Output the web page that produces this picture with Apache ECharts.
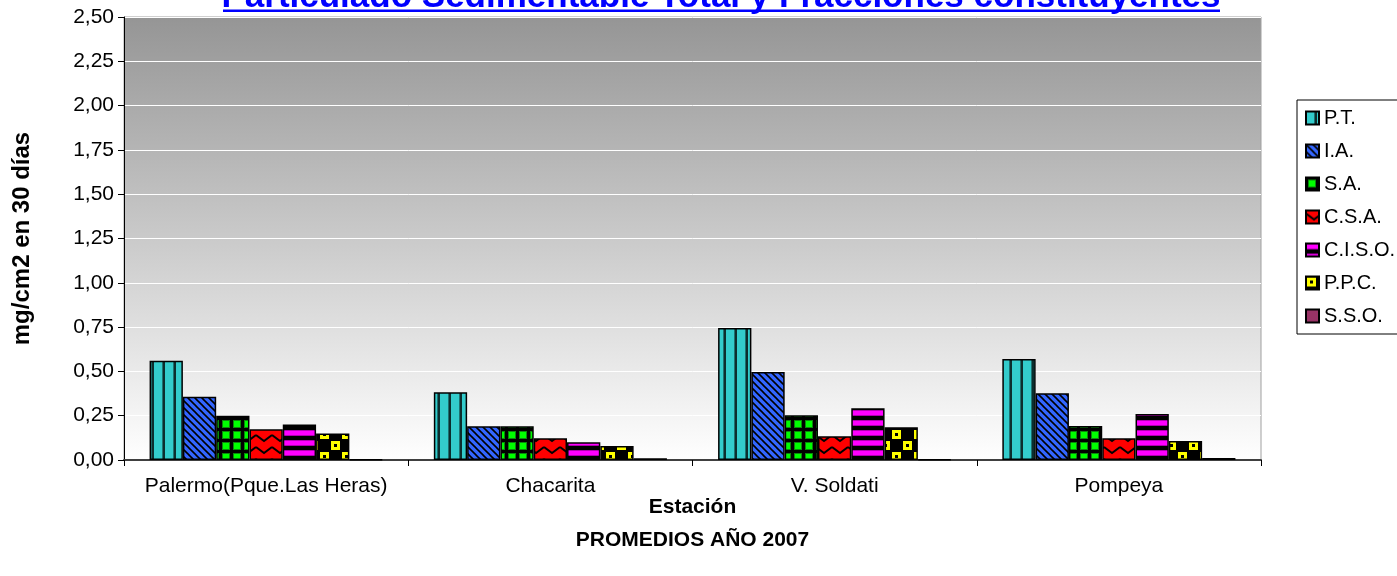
<!DOCTYPE html>
<html>
<head>
<meta charset="utf-8">
<title>Particulado Sedimentable Total y Fracciones constituyentes</title>
<script src="https://cdn.jsdelivr.net/npm/echarts@6/dist/echarts.min.js"></script>
<style>
    html, body { margin: 0; padding: 0; background: #fff; }
    #chart { width: 1397px; height: 576px; }
</style>
</head>
<body>
<div id="chart"></div>
<script>
"use strict";

// datos: promedios 2007 por estacion (mg/cm2 en 30 dias)
var estaciones = ["Palermo(Pque.Las Heras)", "Chacarita", "V. Soldati", "Pompeya"];
var fracciones = ["P.T.", "I.A.", "S.A.", "C.S.A.", "C.I.S.O.", "P.P.C.", "S.S.O."];

var pt   = [0.56, 0.383, 0.745, 0.57];
var ia   = [0.357, 0.19, 0.496, 0.377];
var sa   = [0.25, 0.19, 0.253, 0.192];
var csa  = [0.174, 0.123, 0.134, 0.123];
var ciso = [0.20, 0.10, 0.292, 0.26];
var ppc  = [0.15, 0.079, 0.185, 0.107];
var sso  = [0.004, 0.01, 0.004, 0.011];

var titulo = "Particulado Sedimentable Total y Fracciones constituyentes";
var fuente = '"Liberation Sans", Arial, sans-serif';

// tramas tipo excel
function tile(w, h, draw) {
    var c = document.createElement("canvas");
    c.width = w;
    c.height = h;
    draw(c.getContext("2d"));
    return { image: c, repeat: "repeat" };
}

var fillPT = tile(11, 4, function (g) {
    g.fillStyle = "#33cccc"; g.fillRect(0, 0, 11, 4);
    g.fillStyle = "#1d7070"; g.fillRect(8, 0, 1, 4);
    g.fillStyle = "#0c2e2e"; g.fillRect(9, 0, 2, 4);
});

var fillIA = tile(7, 7, function (g) {
    g.fillStyle = "#3366ff"; g.fillRect(0, 0, 7, 7);
    g.strokeStyle = "#000"; g.lineWidth = 1.6;
    for (var k = -7; k <= 7; k += 7) {
        g.beginPath(); g.moveTo(k - 1, -1); g.lineTo(k + 8, 8); g.stroke();
    }
});

var fillSA = tile(11, 11, function (g) {
    g.fillStyle = "#000"; g.fillRect(0, 0, 11, 11);
    g.fillStyle = "#0a8a0a"; g.fillRect(2, 2, 8, 8);
    g.fillStyle = "#00ff00"; g.fillRect(3, 3, 6, 6);
});

var fillCSA = tile(16, 12, function (g) {
    g.fillStyle = "#ff0000"; g.fillRect(0, 0, 16, 12);
    g.strokeStyle = "#000"; g.lineWidth = 2;
    g.beginPath(); g.moveTo(0, 3); g.lineTo(8, 9); g.lineTo(16, 3); g.stroke();
});

var fillCISO = tile(4, 10, function (g) {
    g.fillStyle = "#000"; g.fillRect(0, 0, 4, 10);
    g.fillStyle = "#b000b0"; g.fillRect(0, 0, 4, 6);
    g.fillStyle = "#ff00ff"; g.fillRect(0, 1, 4, 4);
});

var fillPPC = tile(22, 22, function (g) {
    g.fillStyle = "#000"; g.fillRect(0, 0, 22, 22);
    g.fillStyle = "#ffff00";
    g.fillRect(1, 1, 9, 9);
    g.fillRect(12, 12, 9, 9);
    g.fillStyle = "#000";
    g.fillRect(4, 4, 3, 3);
    g.fillRect(15, 15, 3, 3);
});

var fillSSO = "#993366";

function barra(nombre, valores, relleno) {
    return {
        name: nombre,
        type: "bar",
        data: valores,
        barGap: "0%",
        barCategoryGap: "18%",
        itemStyle: { color: relleno, borderColor: "#000", borderWidth: 1.5 },
        emphasis: { disabled: true }
    };
}

var chart = echarts.init(document.getElementById("chart"));

chart.setOption({
    animation: false,
    backgroundColor: "#fff",
    textStyle: { fontFamily: fuente },
    grid: {
        left: 124, right: 136, top: 17, bottom: 116,
        containLabel: false,
        outerBoundsMode: "none",
        show: true,
        borderColor: "#a0a0a0",
        borderWidth: 1,
        backgroundColor: new echarts.graphic.LinearGradient(0, 0, 0, 1, [
            { offset: 0, color: "#959595" },
            { offset: 1, color: "#ffffff" }
        ])
    },
    legend: {
        data: fracciones,
        orient: "vertical",
        left: 1297, top: 100,
        padding: [8, 12, 8, 8],
        itemWidth: 13, itemHeight: 13, itemGap: 13,
        icon: "rect",
        backgroundColor: "#fff",
        borderColor: "#000",
        borderWidth: 1,
        borderRadius: 0,
        selectedMode: false,
        textStyle: { fontFamily: fuente, fontSize: 20, color: "#000", lineHeight: 14 }
    },
    xAxis: {
        type: "category",
        data: estaciones,
        axisLine: { lineStyle: { color: "#404040", width: 2 } },
        axisTick: { show: true, length: 6, interval: 0, lineStyle: { color: "#000" } },
        axisLabel: { fontFamily: fuente, fontSize: 21, color: "#000", margin: 16, interval: 0 },
        splitLine: { show: false },
        name: "Estación\nPROMEDIOS AÑO 2007",
        nameLocation: "middle",
        nameGap: 31,
        nameMoveOverlap: false,
        nameTextStyle: { fontFamily: fuente, fontWeight: "bold", fontSize: 21, lineHeight: 33, color: "#000" }
    },
    yAxis: {
        type: "value",
        min: 0, max: 2.5, interval: 0.25,
        axisLine: { show: true, lineStyle: { color: "#000", width: 1 } },
        axisTick: { show: true, length: 6, lineStyle: { color: "#000" } },
        axisLabel: {
            fontFamily: fuente, fontSize: 21, color: "#000", margin: 10,
            formatter: function (v) { return v.toFixed(2).replace(".", ","); }
        },
        splitLine: { show: true, lineStyle: { color: "#ffffff", width: 1 } },
        name: "mg/cm2 en 30 días",
        nameLocation: "middle",
        nameGap: 90,
        nameRotate: 90,
        nameMoveOverlap: false,
        nameTextStyle: { fontFamily: fuente, fontWeight: "bold", fontSize: 24, color: "#000" }
    },
    graphic: [
        {
            type: "text", x: 721, y: 15, silent: true,
            style: {
                text: titulo, fill: "#0000ff",
                font: "bold 35px " + fuente,
                align: "center", verticalAlign: "bottom"
            }
        },
        {
            type: "rect", silent: true,
            shape: { x: 223, y: 9.5, width: 997, height: 2.5 },
            style: { fill: "#0000ff" }
        }
    ],
    series: [
        barra(fracciones[0], pt, fillPT),
        barra(fracciones[1], ia, fillIA),
        barra(fracciones[2], sa, fillSA),
        barra(fracciones[3], csa, fillCSA),
        barra(fracciones[4], ciso, fillCISO),
        barra(fracciones[5], ppc, fillPPC),
        barra(fracciones[6], sso, fillSSO)
    ]
});
</script>
</body>
</html>
